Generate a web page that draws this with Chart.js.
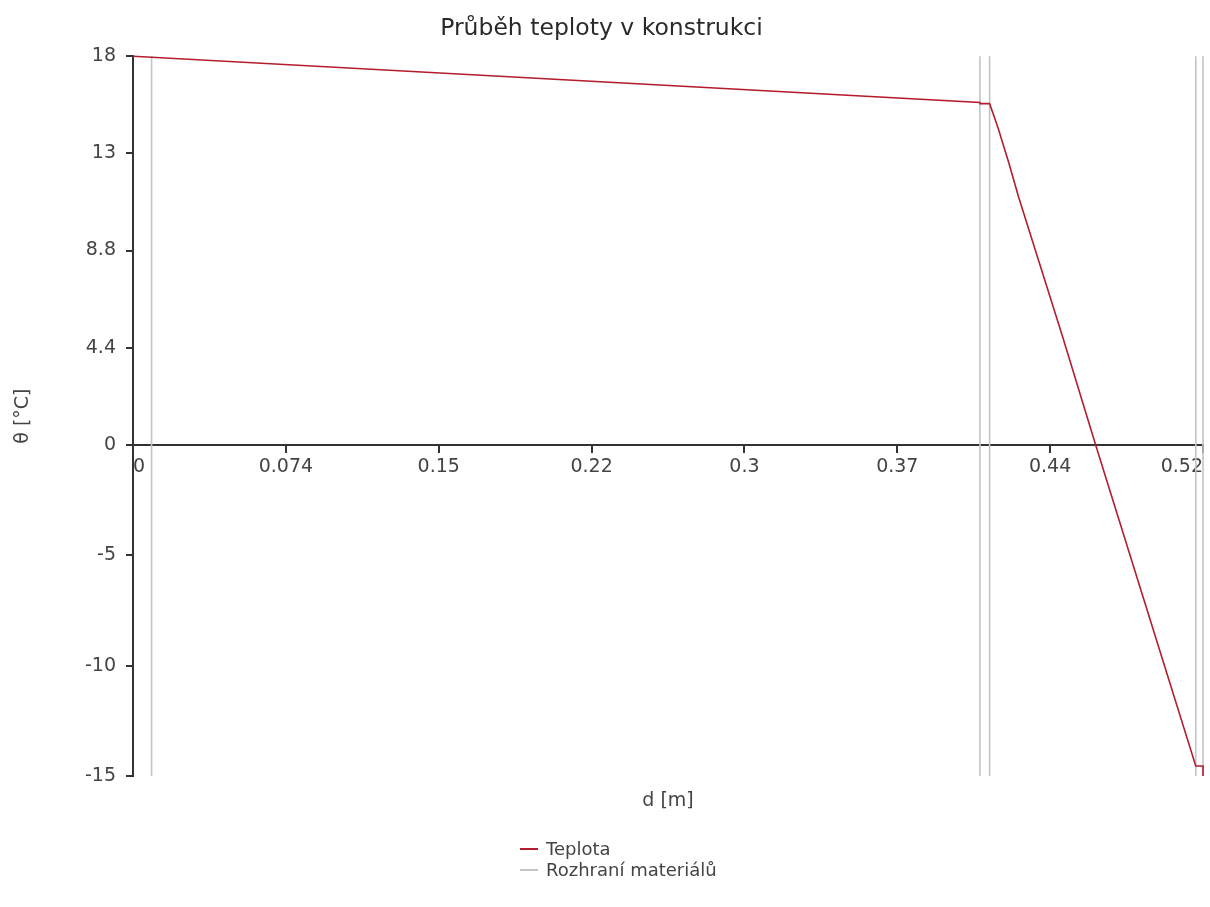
<!DOCTYPE html>
<html><head><meta charset="utf-8">
<script src="https://cdn.jsdelivr.net/npm/chart.js@4"></script>
<style>
html,body{margin:0;padding:0;background:#fff;}
#wrap{position:relative;width:1210px;height:907px;}
#legend{position:absolute;left:520px;top:838px;font:18px 'DejaVu Sans',sans-serif;color:#444;}
.row{display:flex;align-items:center;height:21px;white-space:nowrap;}
.sw{width:18px;height:2px;margin-right:8px;}
</style></head><body>
<div id="wrap"><canvas id="c" width="1210" height="907" style="width:1210px;height:907px"></canvas>
<div id="legend"></div></div>
<script>
// Temperature profile (x in m, temperature in °C)
const tempX = [0, 0.009, 0.41, 0.41, 0.4147, 0.4186, 0.4239, 0.4288, 0.45, 0.466, 0.49, 0.5145, 0.518, 0.518];
const tempY = [17.6, 17.55, 15.5, 15.45, 15.45, 14.4, 12.8, 11.2, 4.9, 0, -7.2, -14.55, -14.55, -15];
// Material interfaces (m)
const interfaceX = [0.009, 0.41, 0.4147, 0.5145, 0.518];
// Axis ticks
const xTickValues = [0, 0.074, 0.148, 0.222, 0.296, 0.37, 0.444, 0.518];
const xTickLabels = ['0', '0.074', '0.15', '0.22', '0.3', '0.37', '0.44', '0.52'];
const yTickValues = [-15, -10, -5, 0, 4.4, 8.8, 13.2, 17.6];
const yTickLabels = ['-15', '-10', '-5', '0', '4.4', '8.8', '13', '18'];
const yRange = [-15, 17.6];
const xRange = [0, 0.518];
const seriesNames = ['Teplota', 'Rozhraní materiálů'];
const seriesColors = ['#b41e2c', '#c4c4c4'];

const tempData = tempX.map((x, i) => ({x: x, y: tempY[i]}));
const ifData = [];
interfaceX.forEach(x => {
  ifData.push({x: x, y: yRange[0]}, {x: x, y: yRange[1]}, {x: x, y: null});
});

const FONT = 'DejaVu Sans';
new Chart(document.getElementById('c'), {
  type: 'line',
  data: {
    datasets: [
      {label: seriesNames[0], data: tempData, borderColor: seriesColors[0], borderWidth: 1.6,
       pointRadius: 0, tension: 0, fill: false, clip: false},
      {label: seriesNames[1], data: ifData, borderColor: seriesColors[1], borderWidth: 1.6,
       pointRadius: 0, tension: 0, fill: false, spanGaps: false, clip: false}
    ]
  },
  options: {
    responsive: false,
    animation: false,
    events: [],
    layout: {padding: {left: 0, right: 7, top: 0, bottom: 91}},
    plugins: {
      legend: {display: false},
      tooltip: {enabled: false},
      title: {display: true, text: 'Průběh teploty v konstrukci', color: '#2a2a2a',
        font: {family: FONT, size: 23.5, weight: 'normal'}, padding: {top: 15, bottom: 13}}
    },
    scales: {
      x: {
        type: 'linear', min: xRange[0], max: xRange[1], position: {y: 0},
        afterBuildTicks: s => { s.ticks = xTickValues.map(v => ({value: v})); },
        afterFit: s => { s.height = 0; },
        ticks: {callback: (v, i) => xTickLabels[i], align: 'inner', autoSkip: false, maxRotation: 0,
          font: {family: FONT, size: 19}, color: '#444', padding: 4},
        grid: {drawOnChartArea: false, drawTicks: true, tickLength: 7, color: '#333', lineWidth: 2},
        border: {display: true, color: '#333', width: 2}
      },
      xt: {
        type: 'linear', min: xRange[0], max: xRange[1], position: 'bottom',
        afterFit: s => { s.height = 40; },
        ticks: {display: false}, grid: {display: false}, border: {display: false},
        title: {display: true, text: 'd [m]', color: '#444', font: {family: FONT, size: 19},
          padding: {top: 4, bottom: 4}}
      },
      y: {
        type: 'linear', min: yRange[0], max: yRange[1],
        afterBuildTicks: s => { s.ticks = yTickValues.map(v => ({value: v})); },
        afterFit: s => { s.width = 133; },
        ticks: {callback: (v, i) => yTickLabels[i], autoSkip: false,
          font: {family: FONT, size: 19}, color: '#444', padding: 10},
        grid: {drawOnChartArea: false, drawTicks: true, tickLength: 7, color: '#333', lineWidth: 2},
        border: {display: true, color: '#333', width: 2},
        title: {display: true, text: 'θ [°C]', color: '#444', font: {family: FONT, size: 19},
          padding: {top: 12, bottom: 4}}
      }
    }
  }
});

const lg = document.getElementById('legend');
seriesNames.forEach((n, i) => {
  const r = document.createElement('div'); r.className = 'row';
  const s = document.createElement('span'); s.className = 'sw'; s.style.background = seriesColors[i];
  const t = document.createElement('span'); t.textContent = n;
  r.appendChild(s); r.appendChild(t); lg.appendChild(r);
});
</script>
</body></html>
